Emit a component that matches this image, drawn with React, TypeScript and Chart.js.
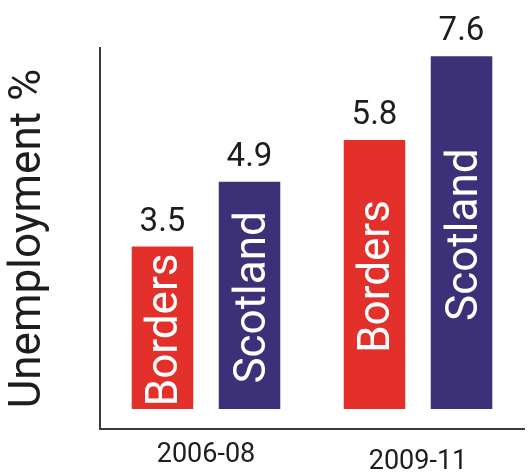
import React, { useEffect, useRef } from "react";
import { Chart, registerables } from "chart.js";

Chart.register(...registerables);

const categories = ["2006-08", "2009-11"];
const seriesNames = ["Borders", "Scotland"];
const bordersValues = [3.5, 5.8];
const scotlandValues = [4.9, 7.6];
const yTitle = "Unemployment %";

const RED = "#e3302b";
const BLUE = "#3c3178";
const TEXT = "#1d1d1b";

const barLabelsPlugin = {
  id: "barLabels",
  afterDatasetsDraw(chart: any) {
    const ctx = chart.ctx;
    chart.data.datasets.forEach((ds: any, di: number) => {
      const meta = chart.getDatasetMeta(di);
      meta.data.forEach((bar: any, i: number) => {
        const { x, y, base } = bar.getProps(["x", "y", "base"], true);
        // value above bar
        ctx.save();
        ctx.fillStyle = TEXT;
        ctx.font = "33px Roboto";
        ctx.textAlign = "center";
        ctx.textBaseline = "alphabetic";
        ctx.fillText(String(ds.data[i]), x, y - 16);
        ctx.restore();
        // series name inside bar, rotated
        ctx.save();
        ctx.fillStyle = "#ffffff";
        ctx.font = "44px Roboto";
        ctx.textAlign = "center";
        ctx.textBaseline = "alphabetic";
        ctx.translate(x + 15, (y + base) / 2 + 2);
        ctx.rotate(-Math.PI / 2);
        ctx.fillText(ds.label, 0, 0);
        ctx.restore();
      });
    });
  },
};

export default function App() {
  const ref = useRef<HTMLCanvasElement | null>(null);

  useEffect(() => {
    if (!ref.current) return;
    Chart.defaults.font.family = "Roboto";
    const chart = new Chart(ref.current, {
      type: "bar",
      data: {
        labels: categories,
        datasets: [
          {
            label: seriesNames[0],
            data: bordersValues,
            backgroundColor: RED,
            categoryPercentage: 0.821,
            barPercentage: 0.707,
          },
          {
            label: seriesNames[1],
            data: scotlandValues,
            backgroundColor: BLUE,
            categoryPercentage: 0.821,
            barPercentage: 0.707,
          },
        ],
      },
      options: {
        animation: false,
        responsive: false,
        maintainAspectRatio: false,
        devicePixelRatio: 1,
        layout: { padding: { top: 48, right: 4, left: 0, bottom: 0 } },
        plugins: {
          legend: { display: false },
          tooltip: { enabled: false },
        },
        scales: {
          x: {
            type: "category",
            offset: true,
            grid: { display: false, drawTicks: false },
            border: { display: true, color: "#3a3a3a", width: 2 },
            ticks: {
              color: TEXT,
              padding: 10,
              maxRotation: 0,
              autoSkip: false,
              font: (ctx: any) => ({
                family: "Roboto",
                size: 27,
                lineHeight: ctx.index === 1 ? 1.74 : 1.2,
              }),
            },
            afterFit: (s: any) => {
              s.height = 43;
            },
          },
          y: {
            type: "linear",
            min: -0.43,
            max: 7.78,
            grid: { display: false, drawTicks: false },
            border: { display: true, color: "#3a3a3a", width: 2 },
            ticks: { display: false },
            title: {
              display: true,
              text: yTitle,
              color: TEXT,
              font: { family: "Roboto", size: 44, lineHeight: 1.2 },
              padding: { top: 3, bottom: 0 },
            },
            afterFit: (s: any) => {
              s.width = 100;
            },
          },
        },
      },
      plugins: [barLabelsPlugin],
    });
    return () => chart.destroy();
  }, []);

  return (
    <div style={{ position: "absolute", left: 0, top: 0, width: 528, height: 472, background: "#fff" }}>
      <canvas ref={ref} width={528} height={472} style={{ display: "block" }} />
    </div>
  );
}
